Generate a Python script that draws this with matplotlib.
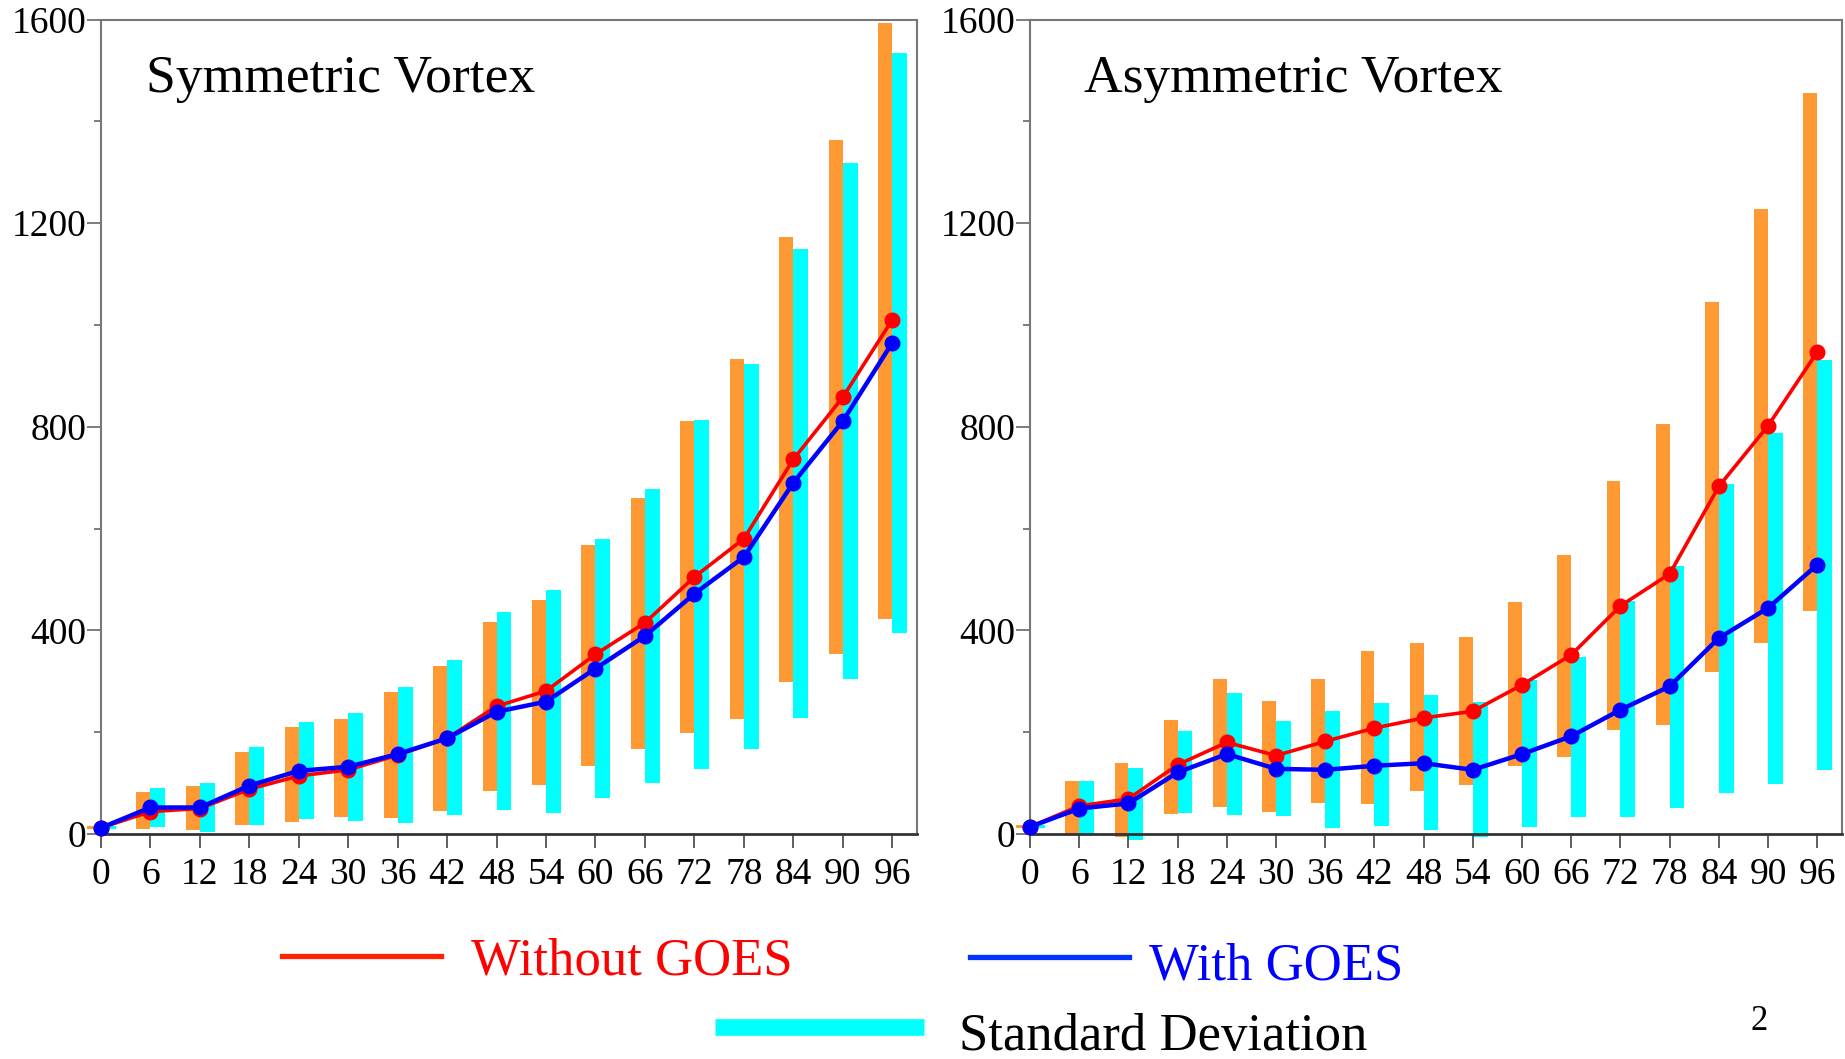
import matplotlib
matplotlib.use("Agg")
import matplotlib.pyplot as plt
from matplotlib.lines import Line2D
from matplotlib.ticker import MultipleLocator
import numpy as np

plt.rcParams['font.family'] = ['Liberation Serif', 'DejaVu Serif']

hours = [0, 6, 12, 18, 24, 30, 36, 42, 48, 54, 60, 66, 72, 78, 84, 90, 96]

sym_without = [12, 44, 50, 88, 114, 126, 155, 188, 251, 281, 353, 415, 505, 580, 736, 858, 1010]
sym_with = [12, 52, 52, 95, 124, 132, 157, 188, 240, 260, 325, 389, 472, 544, 690, 811, 965]
sym_without_lo = [10, 9, 8, 17, 24, 33, 32, 46, 84, 96, 134, 166, 198, 226, 298, 353, 423]
sym_without_hi = [15, 83, 95, 161, 211, 225, 279, 330, 417, 459, 567, 661, 811, 934, 1173, 1364, 1594]
sym_with_lo = [10, 13, 3, 17, 29, 26, 21, 37, 47, 41, 70, 101, 127, 166, 227, 304, 394]
sym_with_hi = [15, 90, 101, 171, 219, 238, 289, 342, 437, 480, 579, 677, 814, 923, 1150, 1319, 1535]

asym_without = [14, 55, 69, 136, 180, 154, 182, 208, 228, 241, 293, 352, 448, 511, 683, 802, 947]
asym_with = [14, 50, 60, 121, 157, 128, 126, 134, 139, 126, 157, 192, 244, 290, 385, 444, 529]
asym_without_lo = [12, 0, -5, 39, 53, 44, 61, 59, 84, 97, 134, 152, 204, 215, 318, 376, 439]
asym_without_hi = [17, 105, 139, 224, 304, 262, 304, 359, 375, 387, 455, 548, 694, 806, 1046, 1227, 1455]
asym_with_lo = [12, -1, -12, 41, 37, 36, 12, 15, 7, -6, 14, 33, 33, 51, 80, 98, 126]
asym_with_hi = [17, 105, 130, 202, 276, 221, 241, 257, 273, 259, 302, 348, 457, 527, 688, 787, 932]

titles = ["Symmetric Vortex", "Asymmetric Vortex"]
yticks = [0, 400, 800, 1200, 1600]

ORANGE = "#FF9933"
CYAN = "#00FFFF"
RED = "#FF0000"
BLUE = "#0000FF"

fig = plt.figure(figsize=(18.45, 10.59), dpi=100)
ax1 = fig.add_axes([0.0547, 0.2125, 0.4423, 0.769])
ax2 = fig.add_axes([0.5583, 0.2125, 0.4400, 0.769])

panels = [
    (ax1, sym_without, sym_with, sym_without_lo, sym_without_hi, sym_with_lo, sym_with_hi, 0.055),
    (ax2, asym_without, asym_with, asym_without_lo, asym_without_hi, asym_with_lo, asym_with_hi, 0.066),
]

for i, (ax, wo, wi, wolo, wohi, wilo, wihi, tx) in enumerate(panels):
    h = np.array(hours)
    wolo_a, wohi_a = np.array(wolo), np.array(wohi)
    wilo_a, wihi_a = np.array(wilo), np.array(wihi)
    ax.bar(h, wohi_a - wolo_a, bottom=wolo_a, width=-1.7, align='edge',
           color=ORANGE, zorder=1, clip_on=False, linewidth=0)
    ax.bar(h, wihi_a - wilo_a, bottom=wilo_a, width=1.8, align='edge',
           color=CYAN, zorder=1, clip_on=False, linewidth=0)
    ax.plot(h, wo, color=RED, lw=2.6, marker='o', ms=10.5, zorder=3, clip_on=False)
    ax.plot(h, wi, color=BLUE, lw=3.2, marker='o', ms=10.5, zorder=4, clip_on=False)

    ax.set_xlim(0, 99)
    ax.set_ylim(0, 1600)
    ax.set_xticks(hours)
    ax.set_xticklabels([str(v) for v in hours])
    ax.set_yticks(yticks)
    ax.set_yticklabels([str(v) for v in yticks])
    ax.yaxis.set_minor_locator(MultipleLocator(200))
    ax.tick_params(axis='x', direction='out', length=10, width=1.2, color='#444444',
                   labelsize=27, pad=7)
    ax.tick_params(axis='y', which='major', direction='out', length=10, width=1.2,
                   color='#666666', labelsize=27, pad=0.5)
    ax.tick_params(axis='y', which='minor', direction='out', length=5, width=1.2,
                   color='#666666')
    for s in ['top', 'right', 'left']:
        ax.spines[s].set_color('#777777')
        ax.spines[s].set_linewidth(1.5)
    ax.spines['bottom'].set_color('#333333')
    ax.spines['bottom'].set_linewidth(2)
    ax.text(tx, 0.911, titles[i], transform=ax.transAxes, fontsize=38.5,
            va='baseline', ha='left', color='black')

# Legend drawn on the figure
fig.add_artist(Line2D([0.153, 0.239], [0.0977, 0.0977], color='#FF2200', lw=3.8,
                      transform=fig.transFigure))
fig.text(0.2551, 0.080, "Without GOES", color=RED, fontsize=38, va='baseline', ha='left')
fig.add_artist(Line2D([0.526, 0.612], [0.0966, 0.0966], color='#0033FF', lw=3.8,
                      transform=fig.transFigure))
fig.text(0.623, 0.0755, "With GOES", color=BLUE, fontsize=38, va='baseline', ha='left')
fig.add_artist(Line2D([0.3877, 0.5008], [0.030, 0.030], color=CYAN, lw=12,
                      solid_capstyle='butt', transform=fig.transFigure))
fig.text(0.5198, 0.0085, "Standard Deviation", color='black', fontsize=38,
         va='baseline', ha='left')
fig.text(0.9536, 0.0357, "2", color='black', fontsize=25, va='center', ha='center')

fig.savefig("out.png", dpi=100)
